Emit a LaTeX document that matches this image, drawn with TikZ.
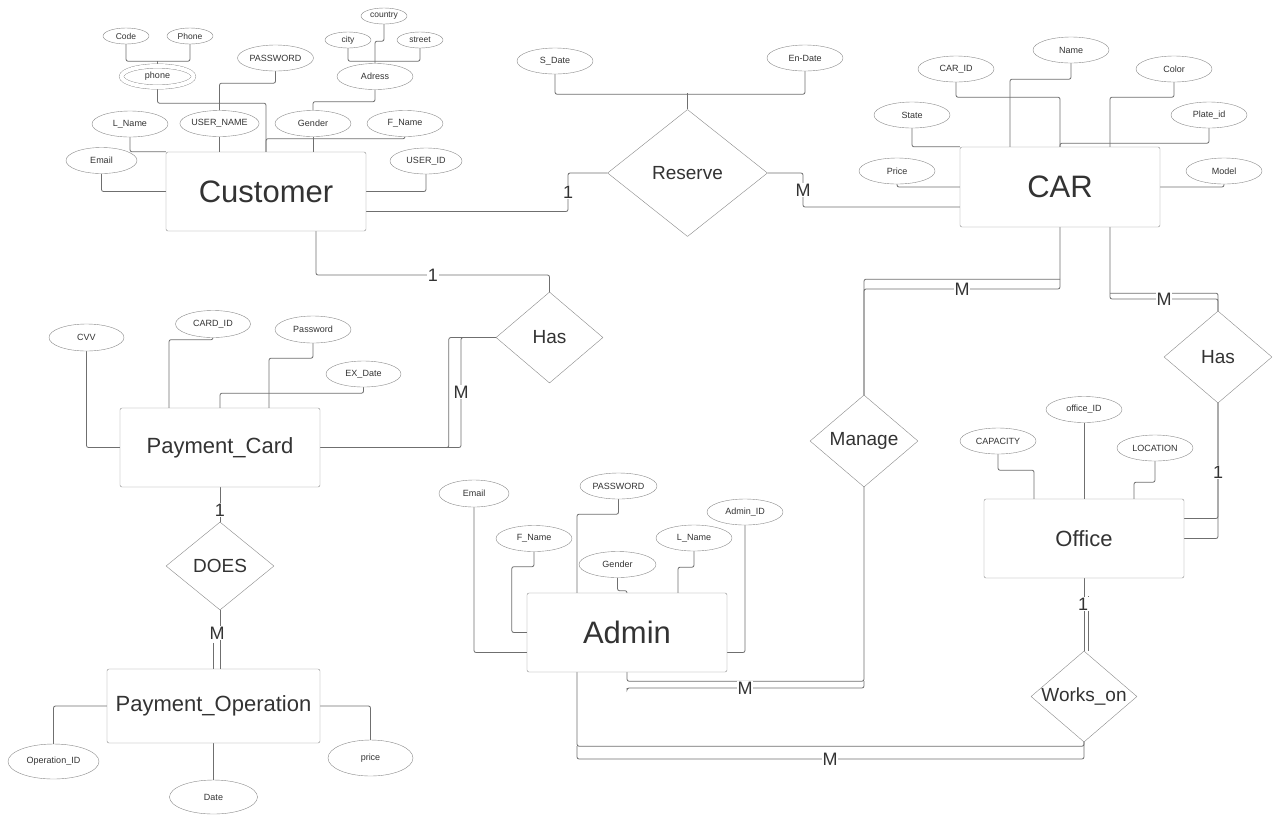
\documentclass[tikz,border=0pt]{standalone}
\usepackage{fontspec}
\setmainfont{Liberation Sans}
\usetikzlibrary{shapes.geometric,backgrounds}
\definecolor{edge}{HTML}{6F6F6F}
\definecolor{rim}{HTML}{8A8A8A}
\definecolor{ink}{HTML}{333333}

\begin{document}
\begin{tikzpicture}[x=1pt,y=-1pt]
\tikzstyle{entity} = [rectangle, draw=rim, fill=white, rounded corners=2pt,
minimum width=200pt, minimum height=79pt, text=ink, font=\fontsize{31}{34}\selectfont]
\tikzstyle{entity2} = [entity, inner sep=2pt, font=\fontsize{22}{26}\selectfont]
\tikzstyle{attr} = [ellipse, draw=rim, fill=white, inner sep=0pt,
minimum width=76pt, minimum height=26pt, text=ink, font=\fontsize{9}{10}\selectfont]
\tikzstyle{subattr} = [attr, minimum width=46pt, minimum height=16pt, font=\fontsize{8.5}{10}\selectfont]
\tikzstyle{multi} = [attr, double, double distance=4pt, minimum width=72pt, minimum height=21pt]
\tikzstyle{rel} = [diamond, draw=rim, fill=white, aspect=1.17, inner sep=0pt,
minimum width=108pt, minimum height=92pt, text=ink, font=\fontsize{19}{22}\selectfont]
\tikzstyle{cardin} = [fill=white, inner sep=0.5pt, text=ink, font=\fontsize{18}{20}\selectfont]
\tikzstyle{line} = [draw=edge, line width=0.8pt, rounded corners=2pt]
\useasboundingbox (0,0) rectangle (1280,823);

% customer
\node[entity] (cust) at (266,191.5) {Customer};
\node[subattr] (cCode) at (126,36) {Code};
\node[subattr] (cPhone) at (190,36) {Phone};
\node[multi] (cPhoneNo) at (157.5,76.5) {phone};
\node[attr] (cPass) at (275.5,58) {PASSWORD};
\node[subattr] (cCountry) at (384,16) {country};
\node[subattr] (cCity) at (348,40) {city};
\node[subattr] (cStreet) at (420,40) {street};
\node[attr] (cAdress) at (375,76.5) {Adress};
\node[attr] (cLName) at (130,124) {L\_Name};
\node[attr, minimum width=79pt] (cUser) at (219.5,123.5) {USER\_NAME};
\node[attr] (cGender) at (313,123.5) {Gender};
\node[attr] (cFName) at (405,123.5) {F\_Name};
\node[attr, minimum width=71pt] (cEmail) at (101.5,160.5) {Email};
\node[attr, minimum width=72pt] (cUserId) at (426,161) {USER\_ID};

% reserve
\node[rel, minimum width=160pt, minimum height=127pt] (reserve) at (687.5,173) {Reserve};
\node[attr] (sDate) at (555,61) {S\_Date};
\node[attr] (enDate) at (805,58) {En-Date};

% car
\node[entity, minimum height=80pt] (car) at (1060,187) {CAR};
\node[attr] (carName) at (1071,50) {Name};
\node[attr] (carId) at (956,69) {CAR\_ID};
\node[attr] (carColor) at (1174,69) {Color};
\node[attr] (carState) at (912,115) {State};
\node[attr] (carPlate) at (1209,115) {Plate\_id};
\node[attr] (carPrice) at (897,171) {Price};
\node[attr] (carModel) at (1224,171) {Model};

% payment card
\node[rel, minimum width=107pt, minimum height=91pt] (hasCard) at (549.5,337.5) {Has};
\node[entity2] (pcard) at (220,447.5) {Payment\_Card};
\node[attr, minimum width=75pt, minimum height=27pt] (cardCvv) at (86.5,337.5) {CVV};
\node[attr, minimum width=75pt, minimum height=27pt] (cardId) at (213,324) {CARD\_ID};
\node[attr, minimum height=27pt] (cardPass) at (313,329.5) {Password};
\node[attr, minimum width=75pt] (cardEx) at (363.5,374) {EX\_Date};

% payment operation
\node[rel, minimum height=88pt] (does) at (220,566) {DOES};
\node[entity2, minimum width=213pt, minimum height=74pt] (payop) at (213.5,706) {Payment\_Operation};
\node[attr, minimum width=91pt, minimum height=35pt] (opId) at (53.5,761.5) {Operation\_ID};
\node[attr, minimum width=88pt, minimum height=34pt] (opDate) at (213.5,797) {Date};
\node[attr, minimum width=85pt, minimum height=36pt] (opPrice) at (370.5,758) {price};

% admin
\node[entity] (admin) at (627,632.5) {Admin};
\node[attr, minimum width=70pt, minimum height=27pt] (aEmail) at (474,493.5) {Email};
\node[attr, minimum width=77pt] (aPass) at (618.5,486) {PASSWORD};
\node[attr] (aId) at (745,512) {Admin\_ID};
\node[attr] (aFName) at (534,538.5) {F\_Name};
\node[attr] (aLName) at (694,538) {L\_Name};
\node[attr, minimum width=77pt] (aGender) at (617.5,564.5) {Gender};

% office
\node[rel] (manage) at (864,441) {Manage};
\node[rel] (hasOff) at (1218,357) {Has};
\node[entity2] (office) at (1084,538.5) {Office};
\node[attr] (offId) at (1084,409.5) {office\_ID};
\node[attr] (offCap) at (998,441) {CAPACITY};
\node[attr] (offLoc) at (1155,448) {LOCATION};
\node[rel, minimum width=106pt, minimum height=91pt] (works) at (1084,696.5) {Works\_on};

% cardinalities
\node[cardin] (rl1) at (568,192) {1};
\node[cardin] (rM) at (803,190) {M};
\node[cardin] (hl1) at (433,275) {1};
\node[cardin] (pM) at (461,392) {M};
\node[cardin] (mM) at (962,289) {M};
\node[cardin] (hM) at (1164,299) {M};
\node[cardin] (ol1) at (1218,472) {1};
\node[cardin] (dl1) at (220,510) {1};
\node[cardin] (dM) at (217,633) {M};
\node[cardin] (mM2) at (745,688) {M};
\node[cardin] (wl1) at (1083,604) {1};
\node[cardin] (wM) at (830,759) {M};

\begin{scope}[on background layer]
\fill[white] (0,0) rectangle (1280,823);
\tikzstyle{every path}=[line]
% customer
\path (cCode.south) -- ++(0,17) -| (cPhone.south);
\path (cPhoneNo.north) -- ++(0,-5);
\path (cPhoneNo.south) -- ++(0,16) -| (cust.north);
\path (cPass.south) -- ++(0,12) -| (cUser.north);
\path (cUser.south) -- (cUser.south |- cust.north);
\path (cCity.south) -- ++(0,13) -| (cStreet.south);
\path (cCountry.south) -- ++(0,17) -| (cAdress.north);
\path (cAdress.south) -- ++(0,12) -| (cGender.north);
\path (cGender.south) -- (cGender.south |- cust.north);
\path (cFName.south) -- ++(0,2) -| (cust.north);
\path (cLName.south) |- (cust.north west);
\path (cEmail.south) |- (cust.west);
\path (cUserId.south) |- (cust.east);
% reserve
\path (sDate.south) -- ++(0,20) -| (enDate.south);
\path (reserve.north) -- ++(0,-16);
\path ([yshift=-20pt]cust.east) -| (rl1) |- (reserve.west);
\path (reserve.east) -| (rM) |- ([yshift=-20pt]car.west);
% car
\path (carName.south) -- ++(0,16) -| ([xshift=-50pt]car.north);
\path (carId.south) -- ++(0,15) -| (car.north);
\path (carColor.south) -- ++(0,15) -| ([xshift=50pt]car.north);
\path (carState.south) |- (car.north west);
\path (carPlate.south) -- ++(0,15) -| (car.north);
\path (carPrice.south) |- (car.west);
\path (carModel.south) |- (car.east);
% manage
\path (car.south) |- (mM) -| (manage.north);
\path ([yshift=-52pt]car.south) -| (manage.north);
\path (manage.south) -- ++(0,194) -| (admin.south);
\path ([yshift=-194pt]manage.south) |- (mM2) -| ([yshift=-16pt]admin.south);
% office
\path ([xshift=50pt]car.south) |- (hM) -| (hasOff.north);
\path ([xshift=50pt,yshift=-66pt]car.south) -| (hasOff.north);
\path (hasOff.south) |- (office.east);
\path ([yshift=20pt]office.east) -| (hasOff.south);
\path (offId.south) -- (office.north);
\path (offCap.south) -- ++(0,16) -| ([xshift=-50pt]office.north);
\path (offLoc.south) -- ++(0,21) -| ([xshift=50pt]office.north);
\path (office.south) -- (works.north);
\path ([xshift=4pt,yshift=-18pt]office.south) -- ([xshift=4pt]works.north);
\path (works.south) -- ++(0,4) -| ([xshift=-50pt]admin.south);
\path (works.south) |- (wM) -| ([xshift=-50pt,yshift=-74pt]admin.south);
% admin
\path (aEmail.south) |- ([yshift=-20pt]admin.west);
\path (aFName.south) -- ++(0,15) -| ([xshift=-15pt]admin.west) -- (admin.west);
\path (aPass.south) -- ++(0,15) -| ([xshift=-50pt]admin.north);
\path (aGender.south) -- ++(0,13) -| (admin.north);
\path (aLName.south) -- ++(0,16) -| ([xshift=51pt]admin.north);
\path (aId.south) |- ([yshift=-20pt]admin.east);
% payment card
\path ([xshift=50pt]cust.south) |- (hl1) -| (hasCard.north);
\path (hasCard.west) -| (pM) |- (pcard.east);
\path (hasCard.west) -- ++(-47,0) |- (pcard.east);
\path (cardCvv.south) |- (pcard.west);
\path (cardId.south) -- ++(0,2) -| ([xshift=-51pt]pcard.north);
\path (cardPass.south) -- ++(0,15) -| ([xshift=49pt]pcard.north);
\path (cardEx.south) -- ++(0,6) -| (pcard.north);
% payment operation
\path (pcard.south) -- (does.north);
\path (does.south) -- (does.south |- payop.north);
\path ([yshift=26pt]payop.north) -- (payop.north);
\path (opId.north) |- (payop.west);
\path (opDate.north) -- (payop.south);
\path (opPrice.north) |- (payop.east);
\end{scope}
\end{tikzpicture}
\end{document}
